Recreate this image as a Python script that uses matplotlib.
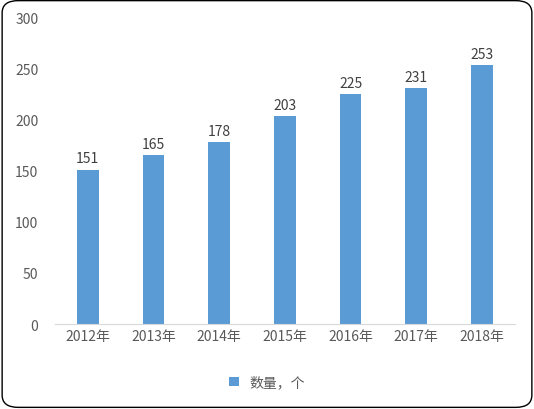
import matplotlib
matplotlib.use("Agg")
import matplotlib.pyplot as plt
from matplotlib.patches import FancyBboxPatch

plt.rcParams['font.family'] = ['Noto Sans CJK SC', 'DejaVu Sans']

years = ["2012年", "2013年", "2014年", "2015年", "2016年", "2017年", "2018年"]
values = [151, 165, 178, 203, 225, 231, 253]
series_name = "数量，个"

fig = plt.figure(figsize=(5.34, 4.10), dpi=100)
fig.patches.append(FancyBboxPatch((0.004, 0.004), 0.992, 0.992, boxstyle="round,pad=0,rounding_size=0.03",
                                  transform=fig.transFigure, fill=False, edgecolor="#000000", linewidth=1.0))
ax = fig.add_axes([0.103, 0.207, 0.861, 0.749])
x = range(len(years))
bars = ax.bar(x, values, width=0.33, color="#5B9BD5", label=series_name)
for xi, v in zip(x, values):
    ax.text(xi, v + 4, str(v), ha="center", va="bottom", fontsize=10, color="#404040")
ax.set_ylim(0, 300)
ax.set_yticks(range(0, 301, 50))
ax.set_xlim(-0.5, len(years) - 0.5)
ax.set_xticks(list(x))
ax.set_xticklabels(years)
ax.tick_params(axis="both", length=0, labelsize=10, labelcolor="#595959")
ax.tick_params(axis="y", pad=12)
for s in ["top", "right", "left"]:
    ax.spines[s].set_visible(False)
ax.spines["bottom"].set_color("#D9D9D9")
fig.legend(loc="center", bbox_to_anchor=(0.5, 0.065), frameon=False, fontsize=10,
           handlelength=0.7, handleheight=0.7, labelcolor="#595959")
fig.savefig("out.png", dpi=100)
